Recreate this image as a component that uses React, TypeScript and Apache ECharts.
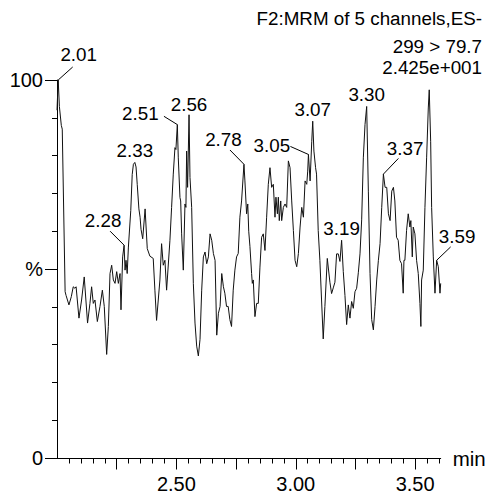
import React, { useEffect, useRef } from "react";
import * as echarts from "echarts";

// Retention time (min) and relative intensity (%)
const times = [
  2.000, 2.005, 2.010, 2.018, 2.022, 2.034, 2.038, 2.050, 2.060, 2.068,
  2.075, 2.080, 2.092, 2.103, 2.114, 2.128, 2.138, 2.145, 2.152, 2.159,
  2.169, 2.180, 2.190, 2.198, 2.208, 2.215, 2.222, 2.229, 2.236, 2.243,
  2.250, 2.257, 2.264, 2.268, 2.275, 2.281, 2.285, 2.289, 2.294, 2.299,
  2.309, 2.315, 2.320, 2.326, 2.331, 2.336, 2.343, 2.348, 2.352, 2.359,
  2.369, 2.378, 2.389, 2.403, 2.410, 2.417, 2.431, 2.438, 2.445, 2.452,
  2.459, 2.473, 2.480, 2.487, 2.494, 2.498, 2.504, 2.508, 2.515, 2.518,
  2.522, 2.529, 2.536, 2.540, 2.543, 2.547, 2.553, 2.557, 2.564, 2.571,
  2.578, 2.585, 2.592, 2.599, 2.606, 2.613, 2.620, 2.627, 2.634, 2.641,
  2.648, 2.655, 2.662, 2.669, 2.676, 2.683, 2.690, 2.697, 2.703, 2.710,
  2.717, 2.724, 2.731, 2.738, 2.745, 2.752, 2.759, 2.766, 2.773, 2.783,
  2.787, 2.794, 2.799, 2.803, 2.808, 2.815, 2.818, 2.822, 2.829, 2.836,
  2.843, 2.850, 2.857, 2.864, 2.871, 2.878, 2.885, 2.892, 2.899, 2.906,
  2.913, 2.917, 2.923, 2.927, 2.931, 2.937, 2.941, 2.948, 2.955, 2.962,
  2.969, 2.976, 2.983, 2.990, 2.997, 3.004, 3.011, 3.018, 3.025, 3.032,
  3.039, 3.046, 3.050, 3.053, 3.060, 3.067, 3.071, 3.076, 3.083, 3.087,
  3.094, 3.101, 3.108, 3.115, 3.122, 3.132, 3.143, 3.150, 3.157, 3.164,
  3.171, 3.178, 3.185, 3.192, 3.199, 3.206, 3.213, 3.220, 3.227, 3.234,
  3.241, 3.248, 3.255, 3.262, 3.269, 3.276, 3.283, 3.290, 3.297, 3.304,
  3.311, 3.318, 3.325, 3.332, 3.339, 3.346, 3.353, 3.360, 3.367, 3.374,
  3.381, 3.388, 3.395, 3.402, 3.409, 3.415, 3.422, 3.429, 3.436, 3.443,
  3.450, 3.453, 3.457, 3.464, 3.471, 3.478, 3.482, 3.488, 3.492, 3.499,
  3.506, 3.513, 3.520, 3.524, 3.527, 3.534, 3.541, 3.548, 3.555, 3.559,
  3.565, 3.569, 3.576, 3.583, 3.590, 3.597, 3.604, 3.607,
];

const intensities = [
  92, 100, 93, 88, 87, 44, 43, 40.5, 42.7, 45.3,
  44.9, 45.3, 37, 41.8, 47.9, 35.7, 40.9, 45.3, 40.9, 41.8,
  36.1, 40.1, 44.4, 40.1, 27.4, 34.8, 48.8, 51.0, 47.1, 46.2,
  49.3, 46.2, 48.8, 39.2, 53.2, 56.3, 49.7, 52.3, 48.8, 55.8,
  65.5, 75, 77.7, 78.2, 77, 72.4, 65.9, 63.7, 60.5, 58,
  65.9, 55.4, 53.4, 52.8, 44.4, 36.4, 47.1, 56.7, 51.0, 52.3,
  44.4, 57.6, 66.3, 75.1, 82.1, 81.6, 88.2, 79.4, 68.9, 68.0,
  59.3, 49.7, 67.2, 66.3, 81.2, 71.6, 90.8, 74.2, 66.3, 46.2,
  35.7, 29.6, 27.0, 31.4, 44.4, 53.2, 54.5, 51.4, 53.2, 59.3,
  57.6, 54.1, 52.3, 32.5, 38.3, 40.1, 48.8, 45.3, 43.6, 40.1,
  40.1, 36.6, 34.8, 44.4, 49.7, 53.2, 54.1, 63.7, 68.0, 77.7,
  73.3, 64.6, 67.2, 60, 56, 48.8, 46.2, 47.1, 37.4, 40.9,
  40.9, 50.5, 58.4, 59.3, 54.9, 63.7, 72.4, 76.8, 71.6, 72.4,
  63.7, 69.0, 64.6, 69.0, 62.8, 68.0, 62.8, 66.3, 67.2, 66.3,
  78.6, 76.8, 68.0, 60.2, 52.3, 50.6, 54.1, 61.1, 66.3, 63.7,
  73.3, 72.4, 75.9, 80.3, 73.3, 83.8, 89.1, 81.2, 76.8, 75.1,
  60.2, 52.3, 41.8, 31.5, 40.1, 52.8, 46.5, 43.5, 45, 46.5,
  54, 54, 52, 57.6, 49.3, 43, 35.3, 40.5, 37.0, 41.4,
  39.6, 44.0, 44.9, 49, 54, 63, 79.4, 88.2, 93.0, 70.6,
  48.8, 36.6, 33.9, 40.1, 47.1, 52.3, 56.7, 66.3, 75.1, 71.6,
  71.6, 64.6, 62.8, 70.6, 71.6, 68.0, 58.4, 57.6, 52.3, 51.4,
  43.6, 52.3, 52.3, 60.2, 64.6, 61.1, 62.8, 53.2, 61.1, 59.3,
  52.3, 48.8, 40.9, 34.8, 47.1, 49.7, 66.3, 79.4, 92.6, 97.4,
  83.8, 66.3, 53.2, 43.6, 52.3, 50.6, 43.6, 46.2,
];

// Labelled peaks
const peakTimes = [2.005, 2.281, 2.326, 2.504, 2.553, 2.783, 3.053, 3.071, 3.192, 3.297, 3.367, 3.590];
const peakLabels = ["2.01", "2.28", "2.33", "2.51", "2.56", "2.78", "3.05", "3.07", "3.19", "3.30", "3.37", "3.59"];

// Axis ticks / labels
const xMin = 2.0;
const xMax = 3.607;
const xMinorTicks = [
  2.05, 2.1, 2.15, 2.2, 2.25, 2.3, 2.35, 2.4, 2.45, 2.5, 2.55, 2.6, 2.65, 2.7, 2.75, 2.8,
  2.85, 2.9, 2.95, 3.0, 3.05, 3.1, 3.15, 3.2, 3.25, 3.3, 3.35, 3.4, 3.45, 3.5, 3.55, 3.6,
];
const xMajorTicks = [2.25, 2.5, 2.75, 3.0, 3.25, 3.5];
const xLabelValues = [2.5, 3.0, 3.5];
const yTickLabels: Record<number, string> = { 0: "0", 50: "%", 100: "100" };
const titleLines = ["F2:MRM of 5 channels,ES-", "299 > 79.7", "2.425e+001"];

// Label placement (layout only): text offset and leader end offset from the peak
type Lay = { tx: number; ty: number; lx?: number; ly?: number };
const ABOVE: Lay = { tx: 0, ty: -11.5 };
const RIGHT_UP: Lay = { tx: 21, ty: -25, lx: 14.5, ly: -14 };
const LEFT_UP: Lay = { tx: -21, ty: -25, lx: -14, ly: -14 };
const peakLayout: Lay[] = [
  { tx: 20.5, ty: -25.5, lx: 14.5, ly: -13 },
  LEFT_UP,
  ABOVE,
  { tx: -37, ty: -11, lx: -13.4, ly: -8.3 },
  { tx: 0, ty: -10.5 },
  { tx: -20.5, ty: -24.3, lx: -14, ly: -14.3 },
  { tx: -36.6, ty: -9, lx: -18, ly: -8 },
  ABOVE,
  ABOVE,
  ABOVE,
  { tx: 21.7, ty: -25.8, lx: 15, ly: -15.7 },
  { tx: 20.5, ty: -24.2, lx: 14, ly: -13.4 },
];

const FONT_FAMILY = '"Liberation Sans", Arial, Helvetica, sans-serif';

export default function App() {
  const ref = useRef<HTMLDivElement>(null);

  useEffect(() => {
    if (!ref.current) return;
    const chart = echarts.init(ref.current, null, { renderer: "svg" });
    const axisText = { color: "#000", fontSize: 20, fontFamily: FONT_FAMILY };
    const black = { color: "#000", width: 1 };

    const option: any = {
      animation: false,
      backgroundColor: "#fff",
      grid: { left: 57, top: 80, right: 49.3, bottom: 33, containLabel: false },
      xAxis: [
        {
          type: "value",
          min: xMin,
          max: xMax,
          position: "bottom",
          axisLine: { show: true, onZero: false, lineStyle: black },
          axisTick: { show: true, length: 5.5, lineStyle: black, customValues: xMinorTicks },
          axisLabel: { show: false },
          splitLine: { show: false },
          name: "min",
          nameLocation: "end",
          nameGap: 12,
          nameTextStyle: { ...axisText, fontSize: 20.5, verticalAlign: "middle", padding: [4, 0, 0, 0] },
        },
        {
          type: "value",
          min: xMin,
          max: xMax,
          position: "bottom",
          axisLine: { show: false, onZero: false },
          axisTick: { show: true, length: 11.5, lineStyle: black, customValues: xMajorTicks },
          axisLabel: {
            show: true,
            customValues: xLabelValues,
            formatter: (v: number) => v.toFixed(2),
            margin: 16,
            ...axisText,
          },
          splitLine: { show: false },
        },
      ],
      yAxis: [
        {
          type: "value",
          min: 0,
          max: 100,
          interval: 10,
          position: "left",
          axisLine: { show: true, onZero: false, lineStyle: black },
          axisTick: { show: true, length: 5, lineStyle: black },
          axisLabel: { show: false },
          splitLine: { show: false },
        },
        {
          type: "value",
          min: 0,
          max: 100,
          interval: 50,
          position: "left",
          axisLine: { show: false, onZero: false },
          axisTick: { show: true, length: 12, lineStyle: black },
          axisLabel: {
            show: true,
            margin: 14,
            formatter: (v: number) => yTickLabels[v] ?? "",
            ...axisText,
          },
          splitLine: { show: false },
        },
      ],
      series: [
        {
          type: "line",
          xAxisIndex: 0,
          yAxisIndex: 0,
          data: times.map((t, i) => [t, intensities[i]]),
          showSymbol: false,
          symbol: "none",
          clip: false,
          lineStyle: { color: "#111", width: 1 },
          silent: true,
        },
      ],
    };
    chart.setOption(option);

    const textStyle = (text: string, align: string) => ({
      text,
      fill: "#000",
      font: `18.8px ${FONT_FAMILY}`,
      align,
      textAlign: align,
      verticalAlign: "middle",
      textVerticalAlign: "middle",
    });

    const graphics: any[] = [];
    const titleY = [18.5, 46.5, 67];
    titleLines.forEach((s, i) => {
      graphics.push({ type: "text", x: 482, y: titleY[i], silent: true, style: textStyle(s, "right") });
    });

    peakTimes.forEach((t, i) => {
      const idx = times.indexOf(t);
      const v = intensities[idx];
      const p = chart.convertToPixel({ seriesIndex: 0 }, [t, v]) as number[];
      const L = peakLayout[i];
      graphics.push({
        type: "text",
        x: p[0] + L.tx,
        y: p[1] + L.ty,
        silent: true,
        style: textStyle(peakLabels[i], "center"),
      });
      if (L.lx !== undefined && L.ly !== undefined) {
        graphics.push({
          type: "line",
          silent: true,
          shape: { x1: p[0], y1: p[1], x2: p[0] + L.lx, y2: p[1] + L.ly },
          style: { stroke: "#000", lineWidth: 1 },
        });
      }
    });

    chart.setOption({ graphic: graphics });

    return () => chart.dispose();
  }, []);

  return (
    <div
      ref={ref}
      style={{ position: "fixed", left: 0, top: 0, width: 490, height: 494, background: "#fff" }}
    />
  );
}
